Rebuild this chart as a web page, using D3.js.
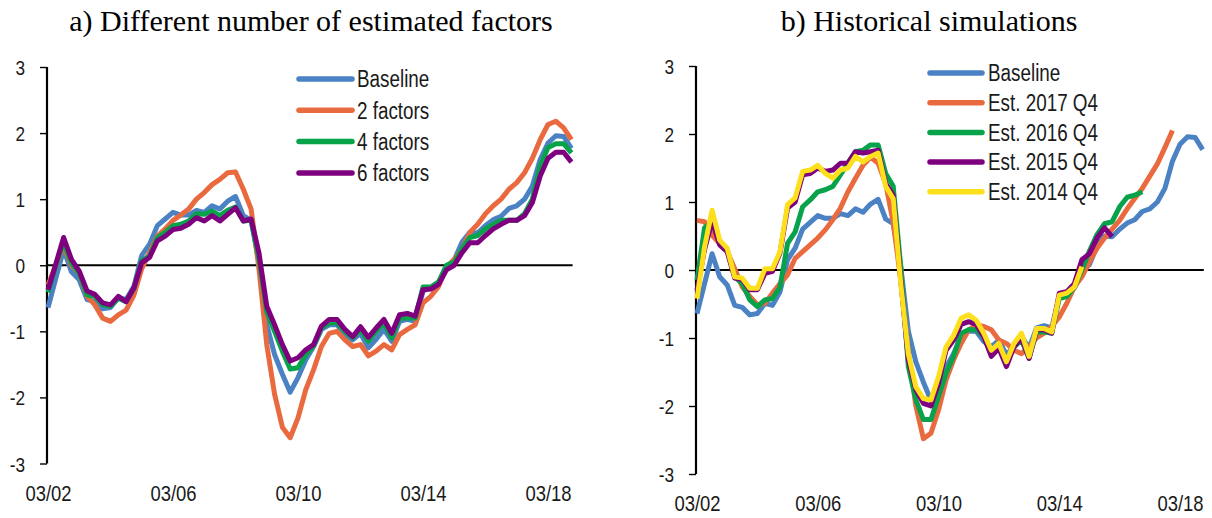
<!DOCTYPE html>
<html><head><meta charset="utf-8">
<script src="https://cdn.jsdelivr.net/npm/d3@7"></script>
<style>
html,body{margin:0;padding:0;background:#fff;}
svg{display:block;}
.title{font-family:"Liberation Serif","Times New Roman",serif;font-size:30px;fill:#000;}
.lab{font-family:"Liberation Sans",Arial,sans-serif;fill:#1a1a1a;}
</style></head>
<body>
<svg id="c" width="1212" height="518"></svg>
<script>
// ---- data (quarterly, 2002Q1 .. 2018Q4) ----
const quarterIndex = d3.range(68);
const xTickIndex = [0, 16, 32, 48, 64];
const xTickLabels = ["03/02", "03/06", "03/10", "03/14", "03/18"];
const yTicks = [-3, -2, -1, 0, 1, 2, 3];

const baseline = [-0.64,-0.2,0.24,-0.1,-0.22,-0.52,-0.55,-0.66,-0.64,-0.49,-0.52,-0.32,0.15,0.32,0.6,0.7,0.8,0.76,0.76,0.83,0.8,0.9,0.85,0.97,1.04,0.75,0.68,0.05,-0.9,-1.35,-1.65,-1.92,-1.7,-1.43,-1.23,-0.97,-0.9,-0.9,-1.05,-1.13,-1.03,-1.25,-1.12,-0.97,-1.15,-0.85,-0.82,-0.85,-0.39,-0.34,-0.27,-0.02,0.08,0.35,0.5,0.49,0.6,0.69,0.74,0.86,0.9,1.0,1.2,1.6,1.85,1.96,1.95,1.77];
const factors2 = [-0.3,0.0,0.3,0.0,-0.12,-0.47,-0.6,-0.8,-0.85,-0.75,-0.68,-0.45,-0.05,0.19,0.44,0.55,0.68,0.76,0.85,1.0,1.1,1.22,1.3,1.4,1.41,1.15,0.85,-0.05,-1.2,-1.95,-2.45,-2.61,-2.31,-1.88,-1.58,-1.23,-1.03,-1.0,-1.13,-1.23,-1.2,-1.37,-1.3,-1.2,-1.28,-1.05,-0.97,-0.9,-0.57,-0.47,-0.32,-0.04,0.09,0.24,0.5,0.62,0.78,0.9,1.0,1.15,1.25,1.4,1.62,1.9,2.13,2.18,2.08,1.9];
const factors4 = [-0.41,0.0,0.35,0.03,-0.12,-0.45,-0.47,-0.6,-0.62,-0.5,-0.55,-0.35,0.07,0.14,0.42,0.5,0.6,0.62,0.67,0.78,0.77,0.82,0.75,0.83,0.88,0.67,0.68,0.1,-0.7,-1.0,-1.3,-1.57,-1.55,-1.35,-1.22,-0.95,-0.87,-0.87,-1.0,-1.1,-0.97,-1.15,-1.0,-0.87,-1.1,-0.8,-0.8,-0.8,-0.33,-0.33,-0.25,0.0,0.05,0.25,0.42,0.45,0.55,0.62,0.68,0.68,0.68,0.78,1.0,1.5,1.78,1.84,1.84,1.7];
const factors6 = [-0.37,0.02,0.42,0.09,-0.09,-0.39,-0.44,-0.57,-0.6,-0.47,-0.55,-0.34,0.04,0.12,0.37,0.44,0.54,0.56,0.62,0.72,0.67,0.75,0.67,0.77,0.87,0.67,0.7,0.19,-0.62,-0.9,-1.2,-1.45,-1.4,-1.28,-1.2,-0.92,-0.82,-0.82,-0.97,-1.08,-0.93,-1.09,-0.95,-0.82,-1.03,-0.75,-0.73,-0.77,-0.37,-0.36,-0.29,-0.07,0.0,0.19,0.34,0.34,0.45,0.55,0.62,0.68,0.68,0.75,0.95,1.35,1.62,1.71,1.71,1.56];

const est2017 = [0.73,0.71,0.51,0.39,0.27,0.02,-0.25,-0.39,-0.51,-0.49,-0.34,-0.2,-0.07,0.17,0.27,0.37,0.47,0.59,0.74,0.91,1.15,1.35,1.54,1.66,1.57,1.27,0.7,-0.15,-1.2,-2.0,-2.48,-2.4,-2.06,-1.62,-1.32,-1.08,-0.88,-0.81,-0.83,-0.88,-1.03,-1.08,-1.18,-1.23,-1.13,-1.0,-0.93,-0.83,-0.69,-0.49,-0.25,-0.1,0.12,0.32,0.47,0.6,0.73,0.9,1.05,1.2,1.38,1.56,1.8,2.05];
const est2016 = [-0.15,0.62,0.7,0.42,0.29,-0.1,-0.2,-0.44,-0.54,-0.44,-0.42,-0.25,0.39,0.56,0.93,1.03,1.15,1.18,1.23,1.4,1.57,1.74,1.76,1.84,1.84,1.42,1.23,0.05,-1.42,-1.91,-2.2,-2.2,-1.86,-1.52,-1.27,-0.93,-0.88,-0.88,-0.98,-1.23,-1.13,-1.32,-1.13,-1.03,-1.3,-0.91,-0.91,-0.93,-0.42,-0.39,-0.25,0.0,0.28,0.52,0.68,0.71,0.93,1.07,1.1,1.15];
const est2015 = [-0.3,0.3,0.72,0.37,0.27,-0.12,-0.14,-0.29,-0.29,-0.05,-0.02,0.25,0.91,1.0,1.4,1.42,1.5,1.45,1.47,1.57,1.57,1.74,1.72,1.74,1.76,1.27,1.1,-0.15,-1.32,-1.76,-1.96,-2.0,-1.67,-1.18,-1.03,-0.8,-0.76,-0.8,-0.98,-1.27,-1.15,-1.42,-1.13,-1.0,-1.3,-0.88,-0.88,-0.93,-0.34,-0.32,-0.2,0.15,0.24,0.47,0.62,0.49];
const est2014 = [-0.42,0.34,0.88,0.44,0.32,-0.1,-0.12,-0.27,-0.27,0.02,0.02,0.27,0.96,1.06,1.45,1.47,1.54,1.42,1.35,1.47,1.5,1.67,1.59,1.67,1.72,1.23,1.05,-0.2,-1.23,-1.72,-1.89,-1.91,-1.57,-1.13,-0.96,-0.71,-0.66,-0.74,-0.93,-1.18,-1.08,-1.35,-1.08,-0.93,-1.27,-0.86,-0.86,-0.91,-0.37,-0.34,-0.25,0.05];

const leftNames = ["Baseline", "2 factors", "4 factors", "6 factors"];
const rightNames = ["Baseline", "Est. 2017 Q4", "Est. 2016 Q4", "Est. 2015 Q4", "Est. 2014 Q4"];
const colors = {blue:"#4a82c3", orange:"#ea6a40", green:"#07a24a", purple:"#7f007f", yellow:"#fde01b"};

// ---- drawing ----
const svg = d3.select("#c");
const NARROW = 0.82; // Arial Narrow look: Arial metrics compressed horizontally

function panel(cfg) {
  const g = svg.append("g");
  const x = d3.scaleLinear().domain([0, 64]).range(cfg.xr);
  const y = d3.scaleLinear().domain([-3, 3]).range(cfg.yr);

  g.append("text").attr("class","title").attr("x", cfg.titleX).attr("y", 31)
    .attr("text-anchor","middle").text(cfg.title);

  // y axis
  const yAxis = d3.axisLeft(y).tickValues(yTicks).tickSize(7).tickPadding(0);
  const ya = g.append("g").attr("transform", `translate(${cfg.axisX},0)`).call(yAxis);
  ya.attr("font-family", null).attr("font-size", null);
  ya.select(".domain").attr("stroke","#000").attr("stroke-width",2.2).attr("d", `M0,${y(3)}V${y(-3)}`);
  ya.selectAll(".tick line").attr("stroke","#000").attr("stroke-width",1.4);
  ya.selectAll(".tick text").attr("class","lab").attr("font-size",21)
    .attr("x",0).attr("dy","0.36em").attr("fill","#1a1a1a")
    .attr("transform", `translate(-22,0) scale(${NARROW},1)`)
    .text(d => d < 0 ? "-" + Math.abs(d) : String(d));

  // x labels (no axis line)
  const xa = d3.axisBottom(x).tickValues(xTickIndex).tickSize(0)
    .tickFormat((d,i) => xTickLabels[i]);
  const xg = g.append("g").attr("transform", `translate(0,${cfg.xLabY})`).call(xa);
  xg.attr("font-family", null).attr("font-size", null);
  xg.select(".domain").remove();
  xg.selectAll(".tick text").attr("class","lab").attr("font-size",22.5).attr("fill","#1a1a1a")
    .attr("y",0).attr("dy","0").attr("transform", `scale(${NARROW},1)`);

  // zero line
  g.append("line").attr("x1", cfg.axisX).attr("x2", x(67.15)).attr("y1", y(0)).attr("y2", y(0))
    .attr("stroke","#000").attr("stroke-width",2.2);

  const line = d3.line().x((d,i) => x(quarterIndex[i])).y(d => y(d));
  cfg.series.forEach(s => {
    g.append("path").datum(s.values).attr("d", line).attr("fill","none")
      .attr("stroke", s.color).attr("stroke-width", 5)
      .attr("stroke-linejoin","round").attr("stroke-linecap","butt");
  });

  // legend
  cfg.series.forEach((s, i) => {
    const ly = cfg.leg.y0 + i * cfg.leg.dy;
    g.append("line").attr("x1", cfg.leg.x1).attr("x2", cfg.leg.x2).attr("y1", ly).attr("y2", ly)
      .attr("stroke", s.color).attr("stroke-width", 5.5).attr("stroke-linecap","round");
    g.append("text").attr("class","lab").attr("font-size", 23)
      .attr("transform", `translate(${cfg.leg.tx},${ly}) scale(${NARROW},1)`)
      .attr("dy","0.36em").text(s.name);
  });
}

panel({
  title: "a) Different number of estimated factors", titleX: 311,
  xr: [48, 548], yr: [463.5, 67], axisX: 47, xLabY: 501,
  series: [
    {name: leftNames[0], values: baseline, color: colors.blue},
    {name: leftNames[1], values: factors2, color: colors.orange},
    {name: leftNames[2], values: factors4, color: colors.green},
    {name: leftNames[3], values: factors6, color: colors.purple}
  ],
  leg: {x1: 299, x2: 352, tx: 357, y0: 79, dy: 31.3}
});

panel({
  title: "b) Historical simulations", titleX: 929,
  xr: [697, 1180], yr: [474, 66], axisX: 696, xLabY: 511,
  series: [
    {name: rightNames[0], values: baseline, color: colors.blue},
    {name: rightNames[1], values: est2017, color: colors.orange},
    {name: rightNames[2], values: est2016, color: colors.green},
    {name: rightNames[3], values: est2015, color: colors.purple},
    {name: rightNames[4], values: est2014, color: colors.yellow}
  ],
  leg: {x1: 930, x2: 982, tx: 988, y0: 73, dy: 29.7}
});
</script>
</body></html>
